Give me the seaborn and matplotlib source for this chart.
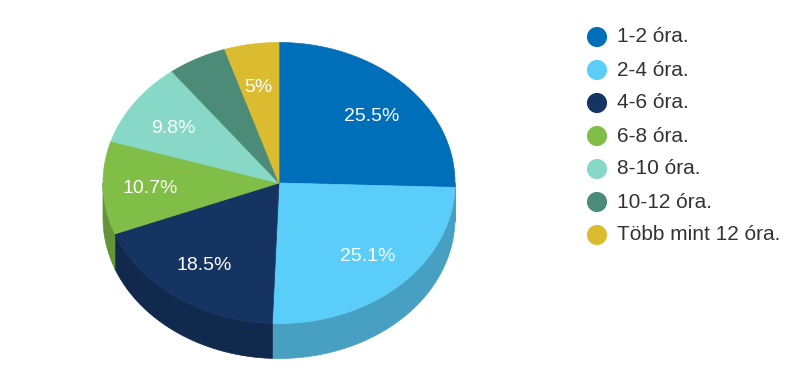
import numpy as np
import matplotlib
matplotlib.use('Agg')
import matplotlib.pyplot as plt
from matplotlib.patches import Polygon
import seaborn as sns

# 데이터
categories = ['1-2 óra.', '2-4 óra.', '4-6 óra.', '6-8 óra.', '8-10 óra.', '10-12 óra.', 'Több mint 12 óra.']
percents = [25.5, 25.1, 18.5, 10.7, 9.8, 5.4, 5.0]
show_label = [True, True, True, True, True, False, True]
colors = ['#006FBA', '#5BCDF9', '#163461', '#80BE48', '#87D8C7', '#4B8B78', '#DBBB2F']

sns.set_style('white')
plt.rcParams['font.family'] = ['Liberation Sans', 'DejaVu Sans']

fig = plt.figure(figsize=(8.08, 3.77), dpi=100)
ax = fig.add_axes([0, 0, 1, 1])

# 3D 파이 모양 (픽셀 단위)
cx, cy, rx, ry, depth = 279, 183, 176, 140.5, 35
label_rx, label_ry = 0.735, 0.70
side_dark = 0.78


def ell(a_deg, dy=0.0):
    a = np.radians(a_deg)
    return np.column_stack([cx + rx * np.cos(a), cy - ry * np.sin(a) + dy])


vals = np.array(percents) / sum(percents)
cum = np.concatenate([[0], np.cumsum(vals)])
starts = 90 - 360 * cum[:-1]
ends = 90 - 360 * cum[1:]

# 옆면 (앞쪽 절반만 보임)
for a0, a1, c in zip(starts, ends, colors):
    hi, lo = min(a0, 0), max(a1, -180)
    if hi <= lo:
        continue
    arc = np.linspace(hi, lo, 80)
    pts = np.vstack([ell(arc), ell(arc[::-1], depth)])
    rgb = np.array(matplotlib.colors.to_rgb(c)) * side_dark
    ax.add_patch(Polygon(pts, closed=True, facecolor=rgb, edgecolor=rgb, linewidth=0.5))

# 윗면
for a0, a1, c in zip(starts, ends, colors):
    arc = np.linspace(a0, a1, 120)
    pts = np.vstack([[cx, cy], ell(arc)])
    ax.add_patch(Polygon(pts, closed=True, facecolor=c, edgecolor=c, linewidth=0.5))

# 퍼센트 라벨
for a0, a1, p, show in zip(starts, ends, percents, show_label):
    if not show:
        continue
    m = np.radians((a0 + a1) / 2)
    ax.text(cx + label_rx * rx * np.cos(m), cy - label_ry * ry * np.sin(m) + 2, f'{p:g}%',
            color='white', fontsize=14, ha='center', va='center')

# 범례
leg_y = [37 + 33 * i for i in range(len(categories))]
sns.scatterplot(x=[597] * len(categories), y=leg_y, hue=categories,
                palette=dict(zip(categories, colors)), s=210, linewidth=0,
                legend=False, ax=ax)
for y, lab in zip(leg_y, categories):
    ax.text(617, y, lab, fontsize=15, color='#333333', ha='left', va='center')

ax.set_xlim(0, 808)
ax.set_ylim(377, 0)
ax.axis('off')
plt.savefig('out.png', dpi=100)
